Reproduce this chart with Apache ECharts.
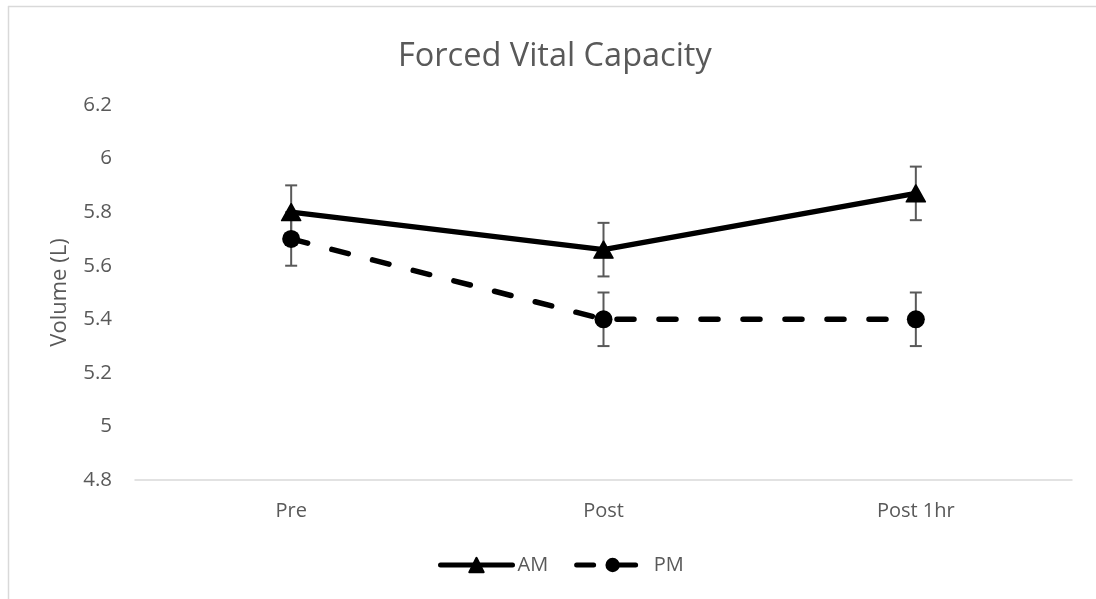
<!DOCTYPE html>
<html>
<head>
<meta charset="utf-8">
<script src="https://cdn.jsdelivr.net/npm/echarts@6/dist/echarts.min.js"></script>
<style>
html,body{margin:0;padding:0;background:#fff;}
#c{width:1096px;height:599px;}
</style>
</head>
<body>
<div id="c"></div>
<script>
const categories = ['Pre', 'Post', 'Post 1hr'];
const amValues = [5.80, 5.66, 5.87];
const pmValues = [5.70, 5.40, 5.40];
const amErrors = [0.10, 0.10, 0.10];
const pmErrors = [0.10, 0.10, 0.10];
const yTicks = [4.8, 5.0, 5.2, 5.4, 5.6, 5.8, 6.0, 6.2];

const FONT = '"Open Sans", "Liberation Sans", sans-serif';
const TXT = '#595959';

function errData(vals, errs) {
  return vals.map((v, i) => [i, v - errs[i], v + errs[i]]);
}
function errSeries(name, vals, errs) {
  return {
    type: 'custom',
    name: name + ' err',
    z: 1,
    silent: true,
    data: errData(vals, errs),
    renderItem: function (params, api) {
      const x = api.value(0);
      const lo = api.coord([x, api.value(1)]);
      const hi = api.coord([x, api.value(2)]);
      const hw = 6;
      const st = { stroke: '#595959', lineWidth: 2 };
      return {
        type: 'group',
        children: [
          { type: 'line', shape: { x1: lo[0], y1: lo[1], x2: hi[0], y2: hi[1] }, style: st },
          { type: 'line', shape: { x1: lo[0] - hw, y1: lo[1], x2: lo[0] + hw, y2: lo[1] }, style: st },
          { type: 'line', shape: { x1: hi[0] - hw, y1: hi[1], x2: hi[0] + hw, y2: hi[1] }, style: st }
        ]
      };
    }
  };
}

const chart = echarts.init(document.getElementById('c'), null, { renderer: 'canvas' });
chart.setOption({
  animation: false,
  backgroundColor: '#fff',
  textStyle: { fontFamily: FONT },
  title: {
    text: 'Forced Vital Capacity',
    left: 393,
    top: 35,
    textStyle: { fontFamily: FONT, fontSize: 32.5, fontWeight: 'normal', color: TXT }
  },
  graphic: [
    { type: 'line', shape: { x1: 8, y1: 6.5, x2: 1096, y2: 6.5 }, style: { stroke: '#d9d9d9', lineWidth: 1.5 } },
    { type: 'line', shape: { x1: 8.5, y1: 6, x2: 8.5, y2: 599 }, style: { stroke: '#d9d9d9', lineWidth: 1.5 } }
  ],
  grid: { left: 135, right: 24, top: 105, bottom: 119, containLabel: false },
  legend: {
    bottom: 19,
    left: 433,
    itemWidth: 72,
    itemHeight: 18,
    itemGap: 26,
    textStyle: { fontFamily: FONT, fontSize: 20, color: TXT },
    lineStyle: { width: 5, cap: 'round' },
    data: ['AM', 'PM']
  },
  xAxis: {
    type: 'category',
    data: categories,
    boundaryGap: true,
    axisLine: { lineStyle: { color: '#d9d9d9', width: 1.5 } },
    axisTick: { show: false },
    axisLabel: { fontFamily: FONT, fontSize: 20, color: TXT, margin: 21 }
  },
  yAxis: {
    type: 'value',
    min: yTicks[0],
    max: yTicks[yTicks.length - 1],
    interval: 0.2,
    name: 'Volume (L)',
    nameLocation: 'middle',
    nameGap: 64,
    nameRotate: 90,
    nameTextStyle: { fontFamily: FONT, fontSize: 22, color: TXT },
    axisLine: { show: false },
    axisTick: { show: false },
    splitLine: { show: false },
    axisLabel: {
      fontFamily: FONT, fontSize: 20.5, color: TXT, margin: 23,
      formatter: function (v) { return String(Math.round(v * 10) / 10); }
    }
  },
  series: [
    errSeries('AM', amValues, amErrors),
    errSeries('PM', pmValues, pmErrors),
    {
      name: 'PM',
      type: 'line',
      z: 3,
      data: pmValues,
      symbol: 'circle',
      symbolSize: 18,
      itemStyle: { color: '#000' },
      lineStyle: { color: '#000', width: 5.5, type: [17, 25], cap: 'round' }
    },
    {
      name: 'AM',
      type: 'line',
      z: 4,
      data: amValues,
      symbol: 'triangle',
      symbolSize: [19, 17],
      itemStyle: { color: '#000', borderColor: '#000', borderWidth: 1.5, borderJoin: 'round' },
      lineStyle: { color: '#000', width: 5.5, cap: 'round' }
    }
  ]
});
</script>
</body>
</html>
